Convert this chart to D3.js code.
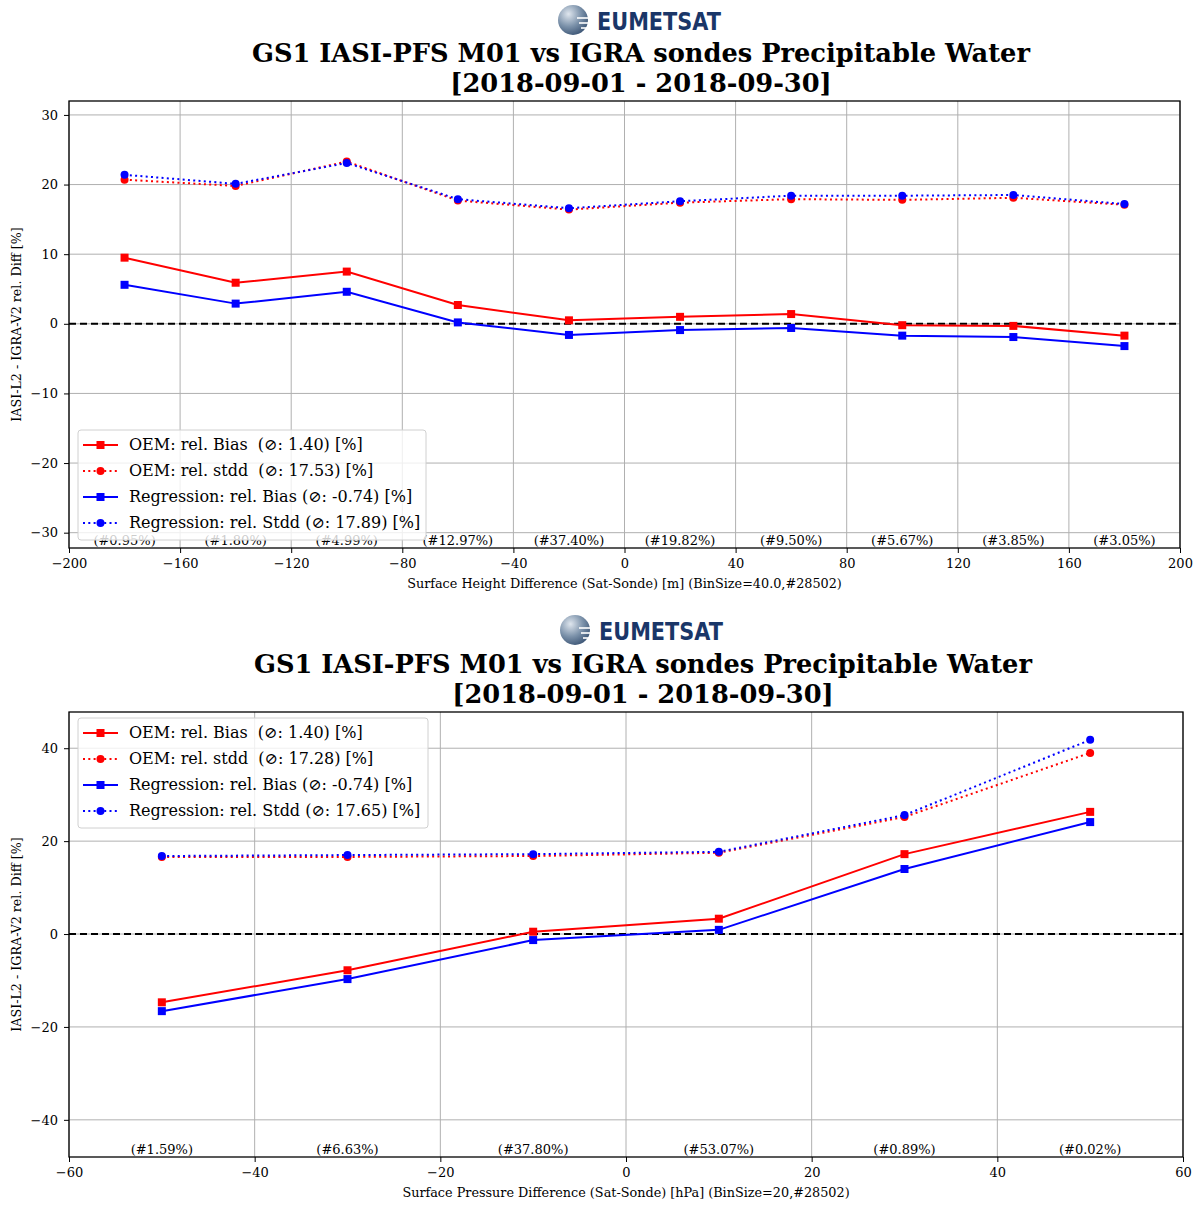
<!DOCTYPE html>
<html lang="en">
<head>
<meta charset="UTF-8">
<title>GS1 IASI-PFS M01 vs IGRA</title>
<script src="https://d3js.org/d3.v7.min.js"></script>
<style>
    body { margin: 0; background: #fff; }
    svg text { font-family: "DejaVu Serif", serif; fill: #000; white-space: pre; }
</style>
</head>
<body>
<script>
    // ---- data ----
    var titleText = "GS1 IASI-PFS M01 vs IGRA sondes Precipitable Water";
    var dateText = "[2018-09-01 - 2018-09-30]";
    var yLabel = "IASI-L2 - IGRA-V2 rel. Diff [%]";

    // top panel: surface height difference
    var hBins = [-180, -140, -100, -60, -20, 20, 60, 100, 140, 180];
    var hOemBias = [9.5, 5.9, 7.5, 2.7, 0.5, 1.0, 1.4, -0.2, -0.3, -1.7];
    var hOemStdd = [20.7, 19.8, 23.3, 17.7, 16.4, 17.4, 17.9, 17.8, 18.1, 17.1];
    var hRegBias = [5.6, 2.9, 4.6, 0.2, -1.6, -0.9, -0.6, -1.7, -1.9, -3.2];
    var hRegStdd = [21.4, 20.1, 23.1, 17.9, 16.6, 17.6, 18.4, 18.4, 18.5, 17.2];
    var hCounts = ["(#0.95%)", "(#1.80%)", "(#4.99%)", "(#12.97%)", "(#37.40%)", "(#19.82%)", "(#9.50%)", "(#5.67%)", "(#3.85%)", "(#3.05%)"];
    var hXTicks = [-200, -160, -120, -80, -40, 0, 40, 80, 120, 160, 200];
    var hYTicks = [-30, -20, -10, 0, 10, 20, 30];
    var hLegend = ["OEM: rel. Bias  (\u2298: 1.40) [%]", "OEM: rel. stdd  (\u2298: 17.53) [%]",
                   "Regression: rel. Bias (\u2298: -0.74) [%]", "Regression: rel. Stdd (\u2298: 17.89) [%]"];

    // bottom panel: surface pressure difference
    var pBins = [-50, -30, -10, 10, 30, 50];
    var pOemBias = [-14.7, -7.8, 0.5, 3.3, 17.2, 26.3];
    var pOemStdd = [16.6, 16.6, 16.8, 17.5, 25.2, 39.0];
    var pRegBias = [-16.6, -9.7, -1.3, 0.9, 14.0, 24.1];
    var pRegStdd = [16.8, 17.0, 17.2, 17.7, 25.6, 41.8];
    var pCounts = ["(#1.59%)", "(#6.63%)", "(#37.80%)", "(#53.07%)", "(#0.89%)", "(#0.02%)"];
    var pXTicks = [-60, -40, -20, 0, 20, 40, 60];
    var pYTicks = [-40, -20, 0, 20, 40];
    var pLegend = ["OEM: rel. Bias  (\u2298: 1.40) [%]", "OEM: rel. stdd  (\u2298: 17.28) [%]",
                   "Regression: rel. Bias (\u2298: -0.74) [%]", "Regression: rel. Stdd (\u2298: 17.65) [%]"];

    var svg = d3.select("body").append("svg")
        .attr("width", 1200)
        .attr("height", 1205);

    var defs = svg.append("defs");
    var grad = defs.append("radialGradient").attr("id", "globe")
        .attr("cx", "35%").attr("cy", "30%").attr("r", "75%");
    grad.append("stop").attr("offset", "0%").attr("stop-color", "#dfe6ee");
    grad.append("stop").attr("offset", "55%").attr("stop-color", "#7d93ab");
    grad.append("stop").attr("offset", "100%").attr("stop-color", "#3d5676");

    function drawLogo(cx, cy) {
        var g = svg.append("g").attr("transform", "translate(" + cx + "," + cy + ")");
        g.append("circle").attr("cx", 14).attr("cy", 0).attr("r", 15).attr("fill", "url(#globe)");
        // white swoosh lines across the globe
        [-2, 3, 8].forEach(function (d, i) {
            g.append("line").attr("x1", 18 + i * 2).attr("x2", 32).attr("y1", d).attr("y2", d)
                .attr("stroke", "#fff").attr("stroke-width", 1.6);
        });
        g.append("text").attr("x", 38).attr("y", 10)
            .style("font-family", "'DejaVu Sans', sans-serif")
            .style("font-weight", "bold").style("font-size", "24px")
            .style("fill", "#1a3668")
            .attr("textLength", 124).attr("lengthAdjust", "spacingAndGlyphs")
            .text("EUMETSAT");
    }

    function drawPanel(o) {
        var x = d3.scaleLinear().domain(o.xDomain).range([o.left, o.right]);
        var y = d3.scaleLinear().domain(o.yDomain).range([o.bottom, o.top]);

        drawLogo(o.logoX, o.logoY);
        svg.append("text").attr("x", o.titleX).attr("y", o.titleY)
            .attr("text-anchor", "middle").style("font-size", "25.7px").style("font-weight", "bold")
            .text(titleText);
        svg.append("text").attr("x", o.titleX).attr("y", o.titleY + 30)
            .attr("text-anchor", "middle").style("font-size", "25.7px").style("font-weight", "bold")
            .text(dateText);

        // grid
        var grid = svg.append("g");
        grid.selectAll(".gx").data(o.xTicks).enter().append("line")
            .attr("x1", d => x(d)).attr("x2", d => x(d))
            .attr("y1", o.top).attr("y2", o.bottom)
            .attr("stroke", "#b0b0b0").attr("stroke-width", 1);
        grid.selectAll(".gy").data(o.yTicks).enter().append("line")
            .attr("x1", o.left).attr("x2", o.right)
            .attr("y1", d => y(d)).attr("y2", d => y(d))
            .attr("stroke", "#b0b0b0").attr("stroke-width", 1);

        // zero line
        svg.append("line").attr("x1", o.left).attr("x2", o.right)
            .attr("y1", y(0)).attr("y2", y(0))
            .attr("stroke", "#000").attr("stroke-width", 2).attr("stroke-dasharray", "7,4");

        var series = [
            { v: o.oemBias, c: "red", dash: null, m: "sq" },
            { v: o.oemStdd, c: "red", dash: "2,3.3", m: "ci" },
            { v: o.regBias, c: "blue", dash: null, m: "sq" },
            { v: o.regStdd, c: "blue", dash: "2,3.3", m: "ci" }
        ];
        var line = d3.line().x(d => x(d[0])).y(d => y(d[1]));
        series.forEach(function (s) {
            var pts = o.bins.map((b, i) => [b, s.v[i]]);
            svg.append("path").datum(pts).attr("d", line)
                .attr("fill", "none").attr("stroke", s.c).attr("stroke-width", 2)
                .attr("stroke-dasharray", s.dash);
            if (s.m === "sq") {
                svg.selectAll(null).data(pts).enter().append("rect")
                    .attr("x", d => x(d[0]) - 4).attr("y", d => y(d[1]) - 4)
                    .attr("width", 8).attr("height", 8).attr("fill", s.c);
            } else {
                svg.selectAll(null).data(pts).enter().append("circle")
                    .attr("cx", d => x(d[0])).attr("cy", d => y(d[1]))
                    .attr("r", 4).attr("fill", s.c);
            }
        });

        // bin share labels
        svg.selectAll(null).data(o.bins).enter().append("text")
            .attr("x", d => x(d)).attr("y", o.bottom - 3)
            .attr("text-anchor", "middle").style("font-size", "13px")
            .text((d, i) => o.counts[i]);

        // legend
        var lg = svg.append("g").attr("transform", "translate(" + o.legX + "," + o.legY + ")");
        lg.append("rect").attr("x", 0).attr("y", 0).attr("width", o.legW).attr("height", 110)
            .attr("rx", 3).attr("fill", "#fff").attr("fill-opacity", 0.8)
            .attr("stroke", "#d0d0d0").attr("stroke-width", 1);
        series.forEach(function (s, i) {
            var yy = 15 + i * 26;
            lg.append("line").attr("x1", 5).attr("x2", 40).attr("y1", yy).attr("y2", yy)
                .attr("stroke", s.c).attr("stroke-width", 2).attr("stroke-dasharray", s.dash);
            if (s.m === "sq") {
                lg.append("rect").attr("x", 18.5).attr("y", yy - 4).attr("width", 8).attr("height", 8).attr("fill", s.c);
            } else {
                lg.append("circle").attr("cx", 22.5).attr("cy", yy).attr("r", 4).attr("fill", s.c);
            }
            lg.append("text").attr("x", 51).attr("y", yy + 5).style("font-size", "16px").text(o.legend[i]);
        });

        // axes
        svg.append("g").attr("transform", "translate(0," + o.bottom + ")")
            .call(d3.axisBottom(x).tickValues(o.xTicks).tickSize(5).tickPadding(6)
                .tickFormat(d => d < 0 ? "\u2212" + Math.abs(d) : d))
            .call(g => g.selectAll("text").style("font-size", "13px").style("font-family", "'DejaVu Serif', serif"));
        svg.append("g").attr("transform", "translate(" + o.left + ",0)")
            .call(d3.axisLeft(y).tickValues(o.yTicks).tickSize(5).tickPadding(6)
                .tickFormat(d => d < 0 ? "\u2212" + Math.abs(d) : d))
            .call(g => g.selectAll("text").style("font-size", "13px").style("font-family", "'DejaVu Serif', serif"));
        svg.selectAll(".domain").remove();
        svg.append("rect").attr("x", o.left).attr("y", o.top)
            .attr("width", o.right - o.left).attr("height", o.bottom - o.top)
            .attr("fill", "none").attr("stroke", "#000").attr("stroke-width", 1.3);

        svg.append("text").attr("x", (o.left + o.right) / 2).attr("y", o.bottom + 40)
            .attr("text-anchor", "middle").style("font-size", "12.8px").text(o.xLabel);
        svg.append("text")
            .attr("transform", "translate(21," + ((o.top + o.bottom) / 2) + ") rotate(-90)")
            .attr("text-anchor", "middle").style("font-size", "12.7px").text(yLabel);
    }

    drawPanel({
        bins: hBins, oemBias: hOemBias, oemStdd: hOemStdd, regBias: hRegBias, regStdd: hRegStdd,
        counts: hCounts, xTicks: hXTicks, yTicks: hYTicks, legend: hLegend,
        xDomain: [-200, 200], yDomain: [-32.2, 32.0],
        left: 69, right: 1180, top: 101, bottom: 548,
        logoX: 559, logoY: 20, titleX: 641, titleY: 62,
        legX: 78, legY: 430, legW: 348,
        xLabel: "Surface Height Difference (Sat-Sonde) [m] (BinSize=40.0,#28502)"
    });

    drawPanel({
        bins: pBins, oemBias: pOemBias, oemStdd: pOemStdd, regBias: pRegBias, regStdd: pRegStdd,
        counts: pCounts, xTicks: pXTicks, yTicks: pYTicks, legend: pLegend,
        xDomain: [-60, 60], yDomain: [-48, 47.8],
        left: 69, right: 1183, top: 712, bottom: 1157,
        logoX: 561, logoY: 630, titleX: 643, titleY: 673,
        legX: 78, legY: 718, legW: 350,
        xLabel: "Surface Pressure Difference (Sat-Sonde) [hPa] (BinSize=20,#28502)"
    });
</script>
</body>
</html>
